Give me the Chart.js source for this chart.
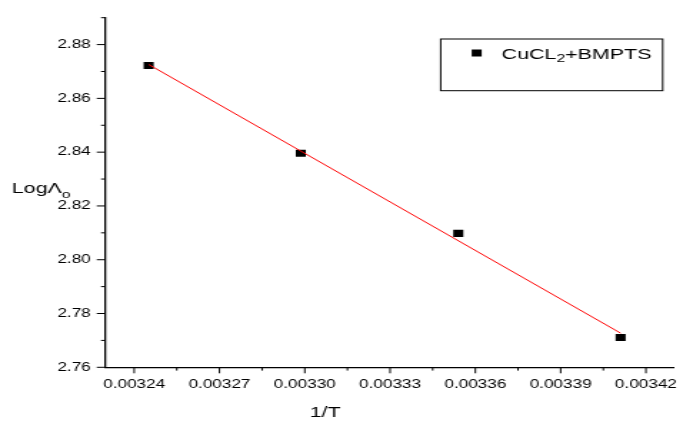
<!DOCTYPE html>
<html>
<head>
<meta charset="utf-8">
<script src="https://cdn.jsdelivr.net/npm/chart.js@4.4.1/dist/chart.umd.min.js"></script>
<style>
  body { margin: 0; background: #fff; }
  /* the reference is stretched sideways, so the canvas is drawn narrow and widened by css */
  #grafico { display: block; width: 683px !important; height: 421px !important; }
</style>
</head>
<body>
<canvas id="grafico" width="478" height="421" style="width:683px;height:421px"></canvas>
<script>
// values
const invT = [0.0032451, 0.0032986, 0.0033540, 0.0034111];
const logLambda = [2.8722, 2.8396, 2.8098, 2.7711];
const fitX = [0.0032451, 0.0034111];
const fitY = [2.8726, 2.7727];

const xTicks = [0.00324, 0.00327, 0.00330, 0.00333, 0.00336, 0.00339, 0.00342];
const xMinor = [0.003255, 0.003285, 0.003315, 0.003345, 0.003375, 0.003405];
const yTicks = [2.76, 2.78, 2.80, 2.82, 2.84, 2.86, 2.88];
const yMinor = [2.77, 2.79, 2.81, 2.83, 2.85, 2.87, 2.89];

const fuente = "'Liberation Sans', Arial, sans-serif";

// ticks, axis titles and legend, drawn after the chart
const extras = {
    id: 'extras',
    afterDraw(chart) {
        const c = chart.ctx;
        const x = chart.scales.x;
        const y = chart.scales.y;
        const area = chart.chartArea;

        c.save();
        c.strokeStyle = '#000';
        c.lineWidth = 1;
        c.beginPath();
        xTicks.forEach(v => { let px = x.getPixelForValue(v); c.moveTo(px, area.bottom); c.lineTo(px, area.bottom + 6); });
        xMinor.forEach(v => { let px = x.getPixelForValue(v); c.moveTo(px, area.bottom); c.lineTo(px, area.bottom + 3.3); });
        yTicks.forEach(v => { let py = y.getPixelForValue(v); c.moveTo(area.left, py); c.lineTo(area.left - 6.3, py); });
        yMinor.forEach(v => { let py = y.getPixelForValue(v); c.moveTo(area.left, py); c.lineTo(area.left - 3.3, py); });
        c.stroke();

        // y title: Log Λ with subscript o
        c.fillStyle = '#000';
        c.textBaseline = 'alphabetic';
        c.textAlign = 'left';
        c.font = '15px ' + fuente;
        let tx = 8.2;
        c.fillText('Log', tx, 192.7);
        tx += c.measureText('Log').width;
        c.fillText('\u039B', tx, 192.7);
        tx += c.measureText('\u039B').width;
        c.font = '11px ' + fuente;
        c.fillText('o', tx, 197.5);

        // x title
        c.font = '15px ' + fuente;
        c.textAlign = 'center';
        c.fillText('1/T', 227.5, 417);

        // legend
        c.lineWidth = 1;
        c.strokeRect(308.4, 39, 155.4, 51.7);
        c.fillRect(333.6 - 3.5, 53 - 3.5, 7, 7);
        c.textAlign = 'left';
        c.font = '15px ' + fuente;
        let lx = 351.1;
        c.fillText('CuCL', lx, 58.5);
        lx += c.measureText('CuCL').width;
        c.font = '11px ' + fuente;
        c.fillText('2', lx, 62);
        lx += c.measureText('2').width;
        c.font = '15px ' + fuente;
        c.fillText('+BMPTS', lx, 58.5);
        c.restore();
    }
};

let chart = new Chart(document.getElementById('grafico'), {
    type: 'scatter',
    data: {
        datasets: [{
            label: 'CuCL2+BMPTS',
            data: invT.map((v, i) => ({ x: v, y: logLambda[i] })),
            pointStyle: 'rect',
            pointRadius: 5,
            backgroundColor: '#000',
            borderColor: '#000',
            borderWidth: 0,
            order: 1
        },
        {
            label: 'ajuste',
            data: fitX.map((v, i) => ({ x: v, y: fitY[i] })),
            showLine: true,
            pointRadius: 0,
            borderColor: '#ff0000',
            borderWidth: 1,
            order: 0
        }]
    },
    options: {
        responsive: false,
        animation: false,
        devicePixelRatio: 1,
        layout: { padding: { top: 17.7, right: 2.1, left: 0, bottom: 0 } },
        plugins: {
            legend: { display: false },
            tooltip: { enabled: false }
        },
        scales: {
            x: {
                type: 'linear',
                min: 0.00323,
                max: 0.00343,
                afterBuildTicks: s => { s.ticks = xTicks.map(v => ({ value: v })); },
                afterFit: s => { s.height = 53.7; },
                grid: { drawOnChartArea: false, color: 'rgba(0,0,0,0)', tickLength: 6 },
                border: { display: true, color: '#000', width: 1.3 },
                ticks: {
                    color: '#000',
                    padding: 4,
                    maxRotation: 0,
                    font: { family: fuente, size: 12 },
                    callback: v => v.toFixed(5)
                }
            },
            y: {
                type: 'linear',
                min: 2.76,
                max: 2.89,
                afterBuildTicks: s => { s.ticks = yTicks.map(v => ({ value: v })); },
                afterFit: s => { s.width = 74; },
                grid: { drawOnChartArea: false, color: 'rgba(0,0,0,0)', tickLength: 6 },
                border: { display: true, color: '#000', width: 1.3 },
                ticks: {
                    color: '#000',
                    padding: 4.5,
                    font: { family: fuente, size: 12 },
                    callback: v => v.toFixed(2)
                }
            }
        }
    },
    plugins: [extras]
});
</script>
</body>
</html>
